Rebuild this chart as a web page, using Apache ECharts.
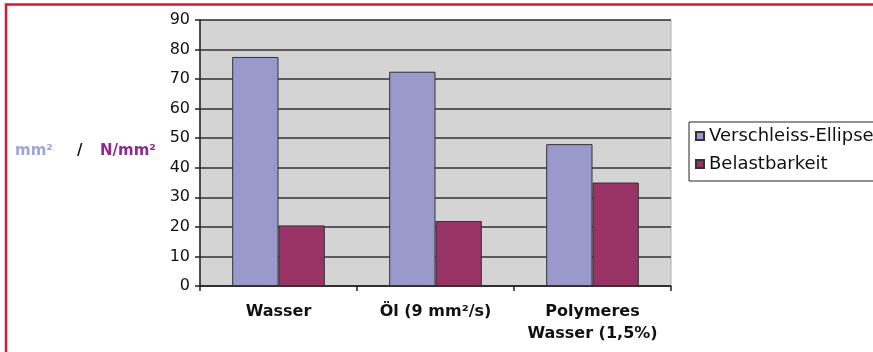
<!DOCTYPE html>
<html>
<head>
<meta charset="utf-8">
<script src="https://cdn.jsdelivr.net/npm/echarts@6/dist/echarts.min.js"></script>
<style>
html,body{margin:0;padding:0;background:#fff;}
#c{width:873px;height:352px;}
</style>
</head>
<body>
<div id="c"></div>
<script>
const categories = ['Wasser', 'Öl (9 mm²/s)', 'Polymeres\nWasser (1,5%)'];
const seriesNames = ['Verschleiss-Ellipse', 'Belastbarkeit'];
const verschleiss = [77.5, 72.5, 48];
const belastbarkeit = [20.5, 22, 35];
const yTicks = {min: 0, max: 90, interval: 10};

const chart = echarts.init(document.getElementById('c'), null, {renderer: 'canvas'});
const FONT = 'DejaVu Sans';
chart.setOption({
  animation: false,
  backgroundColor: '#ffffff',
  grid: {
    left: 200, right: 202, top: 20, bottom: 66,
    show: true, backgroundColor: '#d4d4d4', borderColor: '#b0b0b0', borderWidth: 1
  },
  legend: {
    orient: 'vertical',
    left: 689, top: 122,
    padding: [5, 40, 8, 6],
    itemWidth: 8, itemHeight: 8, itemGap: 10,
    borderColor: '#222', borderWidth: 1,
    icon: 'rect',
    textStyle: {fontFamily: FONT, fontSize: 18, color: '#111'},
    data: seriesNames
  },
  xAxis: {
    type: 'category',
    data: categories,
    axisLine: {lineStyle: {color: '#222', width: 1.5}},
    axisTick: {show: true, interval: 0, alignWithLabel: false, length: 5, lineStyle: {color: '#222', width: 1.5}},
    axisLabel: {interval: 0, fontFamily: FONT, fontWeight: 'bold', fontSize: 16, color: '#111', margin: 15, lineHeight: 22},
    splitLine: {show: false}
  },
  yAxis: {
    type: 'value',
    min: yTicks.min, max: yTicks.max, interval: yTicks.interval,
    axisLine: {show: true, lineStyle: {color: '#222', width: 1.5}},
    axisTick: {show: true, length: 5, lineStyle: {color: '#222', width: 1.5}},
    axisLabel: {fontFamily: FONT, fontSize: 16, color: '#111', margin: 10},
    splitLine: {show: true, lineStyle: {color: '#333', width: 1.6}}
  },
  series: [
    {
      name: seriesNames[0], type: 'bar', data: verschleiss,
      barGap: '0%', barCategoryGap: '41%',
      itemStyle: {color: '#9999cc', borderColor: '#333', borderWidth: 1}
    },
    {
      name: seriesNames[1], type: 'bar', data: belastbarkeit,
      barGap: '0%', barCategoryGap: '41%',
      itemStyle: {color: '#993366', borderColor: '#333', borderWidth: 1}
    }
  ],
  graphic: [
    {type: 'rect', silent: true, shape: {x: 6, y: 4.5, width: 1000, height: 500},
     style: {fill: 'none', stroke: '#d41a32', lineWidth: 2.5}},
    {type: 'text', left: 15, top: 144, style: {text: 'mm²', fontFamily: FONT, fontWeight: 'bold', fontSize: 15, fill: '#a3a3d6'}},
    {type: 'text', left: 77, top: 144, style: {text: '/', fontFamily: FONT, fontWeight: 'bold', fontSize: 15, fill: '#111'}},
    {type: 'text', left: 100, top: 144, style: {text: 'N/mm²', fontFamily: FONT, fontWeight: 'bold', fontSize: 15, fill: '#8e2a8e'}}
  ]
});
</script>
</body>
</html>
